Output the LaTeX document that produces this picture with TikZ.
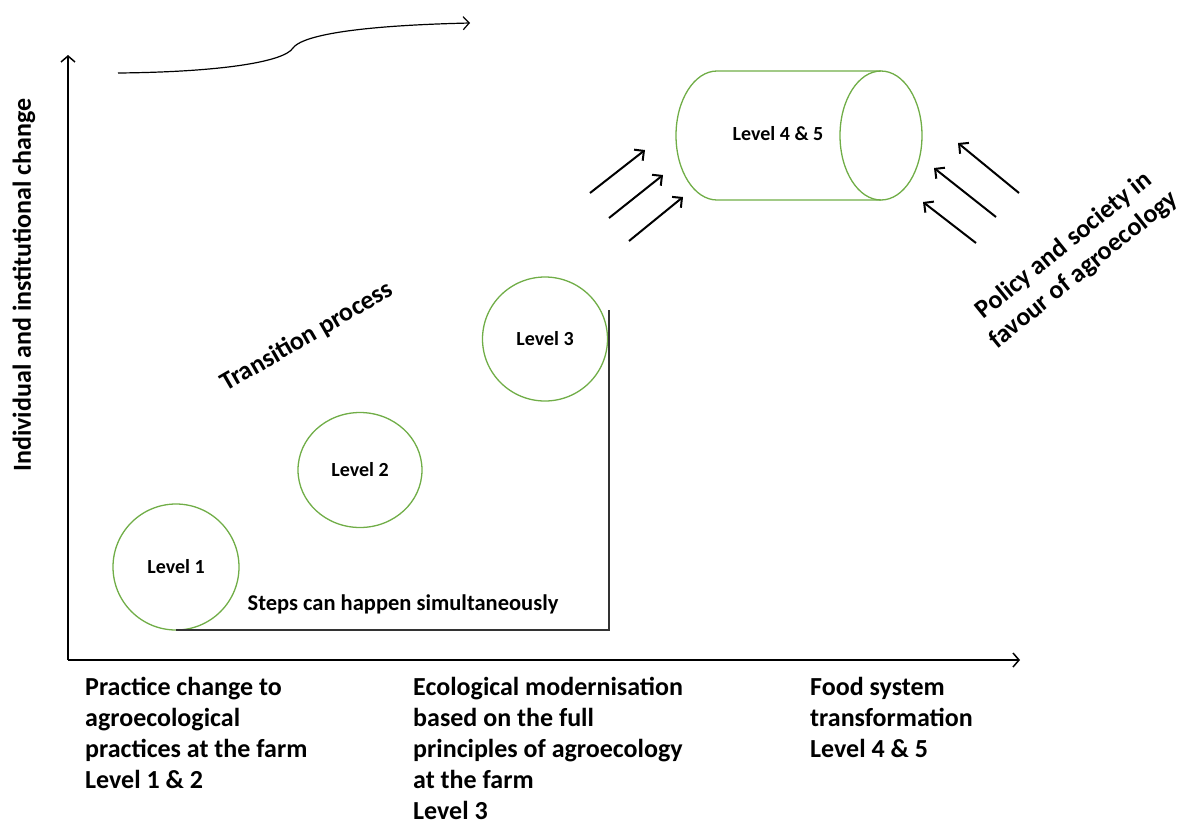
\documentclass[tikz,border=0pt]{standalone}
\usepackage{fontspec}
\setmainfont{Carlito}
\usetikzlibrary{arrows.meta,shapes.geometric}
\definecolor{lvlgreen}{RGB}{112,173,71}
\tikzset{
  lvl/.style={draw=lvlgreen, line width=1.3pt, ellipse},
  push/.style={-{Straight Barb[length=7pt,width=14pt]}, line width=2pt},
  axis/.style={-{Straight Barb[length=6pt,width=14pt]}, line width=1.5pt},
  lab/.style={font=\fontsize{20}{24}\selectfont\bfseries},
  big/.style={font=\fontsize{26}{31}\selectfont\bfseries},
  foot/.style={big, align=left, anchor=north west, inner sep=0pt}
}
\begin{document}
\begin{tikzpicture}[x=1pt,y=-1pt]
\useasboundingbox (0,0) rectangle (1181,823);
% axes
\coordinate (o) at (68,660);
\coordinate (ytop) at (68,55);
\coordinate (xend) at (1020,660);
\draw[axis] (o) -- (ytop);
\draw[axis] (o) -- (xend);
\node[big, rotate=90] (ylab) at (24,285) {Individual and institutional change};
% curve at the top
\coordinate (c0) at (118,73);
\coordinate (c1) at (293,48);
\coordinate (c2) at (470,23);
\draw[-{Straight Barb[length=6pt,width=13pt]}, line width=1.2pt]
  (c0) .. controls (220,72) and (284,62) .. (c1) .. controls (300,38) and (340,26) .. (c2);
% levels
\draw
(176,567) node [lab, lvl, minimum width=126, minimum height=126] (1) {Level 1}
(360,470) node [lab, lvl, minimum width=124, minimum height=115] (2) {Level 2}
(545,339) node [lab, lvl, minimum width=125, minimum height=124] (3) {Level 3};
\coordinate (b1) at (176,630);
\coordinate (b2) at (609,630);
\coordinate (b3) at (609,310);
\draw[line width=1.2pt, black!80] (b1) -- (b2) -- (b3);
\node[lab, font=\fontsize{22.5}{26}\selectfont\bfseries] (steps) at (403,604) {Steps can happen simultaneously};
\node[big, rotate=30] (trans) at (307,337) {Transition process};
% cylinder
\draw[draw=lvlgreen, line width=1.3pt] (881,71) -- (717,71) arc[start angle=270, end angle=90, x radius=41, y radius=64.5] -- (881,200);
\draw[draw=lvlgreen, line width=1.3pt] (881,135.5) ellipse[x radius=41, y radius=64.5];
\node[lab] (45) at (778,134) {Level 4 \& 5};
% arrows into the cylinder
\foreach \i/\a/\b/\c/\d in {1/590/193/645/150, 2/609/218/663/175, 3/629/241/683/197,
                            4/1019/193/958/143, 5/996/217/934/168, 6/976/243/923/202}{
  \coordinate (s\i) at (\a,\b);
  \coordinate (t\i) at (\c,\d);
  \draw[push] (s\i) -- (t\i);
}
\node[big, rotate=39, align=center] (policy) at (1074,258) {Policy and society in\\favour of agroecology};
% bottom labels
\node[foot] (p1) at (85,677) {Practice change to\\agroecological\\practices at the farm\\Level 1 \& 2};
\node[foot] (p2) at (413,677) {Ecological modernisation\\based on the full\\principles of agroecology\\at the farm\\Level 3};
\node[foot] (p3) at (810,677) {Food system\\transformation\\Level 4 \& 5};
\end{tikzpicture}
\end{document}
